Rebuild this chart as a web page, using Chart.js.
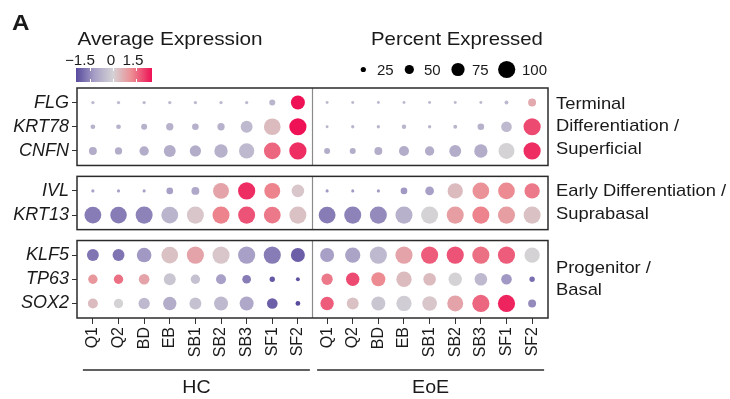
<!DOCTYPE html>
<html>
<head>
<meta charset="utf-8">
<script src="https://cdn.jsdelivr.net/npm/chart.js@4.4.0/dist/chart.umd.min.js"></script>
<style>
  html, body { margin: 0; padding: 0; background: #fff; }
</style>
</head>
<body>
<canvas id="dotPlot" width="730" height="399"></canvas>
<script>
// clusters on the x axis, repeated for each condition
const clusters = ['Q1', 'Q2', 'BD', 'EB', 'SB1', 'SB2', 'SB3', 'SF1', 'SF2'];
const conditions = ['HC', 'EoE'];
const genes = ['FLG', 'KRT78', 'CNFN', 'IVL', 'KRT13', 'KLF5', 'TP63', 'SOX2'];
const geneGroups = [[0, 1, 2], [3, 4], [5, 6, 7]];
const groupLabels = [
    ['Terminal', 'Differentiation /', 'Superficial'],
    ['Early Differentiation /', 'Suprabasal'],
    ['Progenitor /', 'Basal']
];

// one row per gene: 9 HC clusters, then 9 EoE clusters
const pctExpressed = [
    [13, 13, 13, 13, 13, 13, 13, 30, 80,   11, 11, 11, 11, 11, 11, 11, 17, 42],
    [22, 22, 30, 38, 34, 38, 67, 97, 100,  11, 13, 13, 20, 13, 17, 34, 59, 100],
    [42, 38, 51, 67, 63, 76, 88, 97, 100,  30, 30, 42, 55, 51, 67, 76, 92, 100],
    [12, 12, 12, 34, 42, 92, 100, 92, 71,  12, 12, 12, 34, 47, 88, 97, 97, 88],
    [98, 96, 99, 98, 99, 99, 99, 98, 99,   98, 99, 99, 99, 99, 99, 99, 99, 99],
    [67, 67, 84, 97, 100, 100, 100, 100, 80,  80, 88, 100, 100, 100, 100, 100, 100, 88],
    [51, 51, 59, 67, 51, 55, 47, 26, 17,   63, 76, 80, 88, 71, 76, 71, 59, 26],
    [55, 51, 63, 76, 67, 80, 80, 59, 22,   76, 67, 80, 88, 84, 92, 100, 100, 42]
];
const avgExpression = [
    [-0.6, -0.6, -0.6, -0.6, -0.6, -0.6, -0.6, -0.7, 2.5,   -0.6, -0.6, -0.6, -0.6, -0.6, -0.6, -0.6, -0.6, 0.7],
    [-0.8, -0.8, -0.8, -0.8, -0.8, -0.8, -0.6, 0.4, 2.5,    -0.7, -0.7, -0.7, -0.7, -0.7, -0.7, -0.8, -0.6, 1.9],
    [-0.9, -0.9, -0.9, -0.9, -0.9, -0.8, -0.6, 1.6, 2.2,    -0.9, -0.9, -0.9, -0.9, -0.9, -0.9, -0.9, 0, 2.2],
    [-1.2, -1.2, -1.2, -1.2, -1.0, 0.8, 2.2, 1.3, 0.2,      -1.3, -1.3, -1.3, -1.3, -1.2, 0.4, 1.1, 1.2, 1.4],
    [-1.7, -1.7, -1.6, -0.7, 0.2, 1.3, 1.8, 1.4, 0.3,       -1.7, -1.6, -1.5, -0.8, 0, 0.9, 1.3, 0.9, 0.3],
    [-1.8, -1.8, -1.3, 0.3, 0.8, 0.2, -1.2, -1.7, -2.1,     -1.2, -1.1, -0.6, 0.8, 1.7, 1.8, 1.5, 1.7, 0],
    [1.0, 1.5, 0.8, -0.3, -0.4, -1.2, -1.7, -2.2, -2.3,     1.4, 1.9, 1.2, 0.4, 0.4, 0, -0.6, -1.3, -1.9],
    [0.4, 0, -0.6, -0.9, -0.4, -0.6, -1.0, -2.1, -2.5,      1.7, 0.3, -0.3, -0.1, 0.2, 0.8, 1.6, 2.3, -1.5]
];
const sizeBreaks = [25, 50, 75, 100];
const colorTicks = [-1.5, 0, 1.5];

const FONT = '"Liberation Sans", Arial, Helvetica, sans-serif';
const colorStops = [
    [-2.4, [88, 74, 158]],
    [-1.2, [168, 160, 198]],
    [0, [212, 210, 213]],
    [1.2, [236, 140, 146]],
    [2.5, [238, 17, 85]]
];

function colorFor(v) {
    if (v <= colorStops[0][0]) return 'rgb(' + colorStops[0][1].join(',') + ')';
    for (let i = 1; i < colorStops.length; i++) {
        const [v1, c1] = colorStops[i];
        const [v0, c0] = colorStops[i - 1];
        if (v <= v1) {
            const t = (v - v0) / (v1 - v0);
            const c = c0.map((a, k) => Math.round(a + (c1[k] - a) * t));
            return 'rgb(' + c.join(',') + ')';
        }
    }
    return 'rgb(' + colorStops[colorStops.length - 1][1].join(',') + ')';
}

function radiusFor(pct) {
    return 0.08 * pct + 0.6;
}

// x positions: small extra gap between the two conditions
const xPos = [];
const xLabels = [];
conditions.forEach((c, k) => {
    clusters.forEach((cl, i) => {
        xPos.push(i + k * (clusters.length + 0.14));
        xLabels.push(cl);
    });
});
const dividerX = clusters.length - 1 + (1 + 0.14) / 2;

// y positions: gap between gene groups
const yPos = [];
geneGroups.forEach((rows, gi) => {
    rows.forEach(r => { yPos[r] = r + gi * 0.65; });
});

const points = [];
genes.forEach((g, gi) => {
    pctExpressed[gi].forEach((p, ci) => {
        points.push({ x: xPos[ci], y: yPos[gi], pct: p, avg: avgExpression[gi][ci] });
    });
});

function stretchText(ctx, text, x, y, size, sx, align, weight) {
    ctx.save();
    ctx.font = (weight || 'normal') + ' ' + size + 'px ' + FONT;
    ctx.textAlign = align || 'left';
    ctx.textBaseline = 'alphabetic';
    ctx.fillStyle = '#1a1a1a';
    ctx.translate(x, y);
    ctx.scale(sx, 1);
    ctx.fillText(text, 0, 0);
    ctx.restore();
}

function line(ctx, x1, y1, x2, y2) {
    ctx.beginPath();
    ctx.moveTo(x1, y1);
    ctx.lineTo(x2, y2);
    ctx.stroke();
}

const decorations = {
    id: 'decorations',
    afterDraw(chart) {
        const { ctx, chartArea: area, scales: { x, y } } = chart;
        ctx.save();

        // panels, divider and group labels
        geneGroups.forEach((rows, gi) => {
            const top = y.getPixelForValue(yPos[rows[0]] - 0.6);
            const bottom = y.getPixelForValue(yPos[rows[rows.length - 1]] + 0.6);
            ctx.strokeStyle = '#8a8a8a';
            ctx.lineWidth = 1.2;
            const dx = x.getPixelForValue(dividerX);
            line(ctx, dx, top, dx, bottom);
            ctx.strokeStyle = '#2b2b2b';
            ctx.lineWidth = 1.5;
            ctx.strokeRect(area.left, top, area.right - area.left, bottom - top);

            const mid = (top + bottom) / 2;
            const lines = groupLabels[gi];
            lines.forEach((txt, li) => {
                const cy = mid + (li - (lines.length - 1) / 2) * 22.5 - 1.5;
                stretchText(ctx, txt, area.right + 8, cy + 6, 17, 1.08, 'left');
            });
        });

        // condition brackets under the x labels
        ctx.strokeStyle = '#2b2b2b';
        ctx.lineWidth = 1.5;
        conditions.forEach((c, k) => {
            const first = x.getPixelForValue(xPos[k * clusters.length]) - 10;
            const last = x.getPixelForValue(xPos[(k + 1) * clusters.length - 1]) + 12;
            line(ctx, first, 370, last, 370);
            stretchText(ctx, c, (first + last) / 2, 392.5, 17.5, 1.12, 'center');
        });

        // panel letter
        stretchText(ctx, 'A', 12, 29.5, 22, 1.1, 'left', 'bold');

        // colour legend
        stretchText(ctx, 'Average Expression', 77.5, 44.5, 18.5, 1.12, 'left');
        const barL = 76, barR = 152, barT = 68, barH = 14;
        const vMin = colorStops[0][0], vMax = colorStops[colorStops.length - 1][0];
        for (let px = barL; px < barR; px++) {
            const v = vMin + (px + 0.5 - barL) / (barR - barL) * (vMax - vMin);
            ctx.fillStyle = colorFor(v);
            ctx.fillRect(px, barT, 1, barH);
        }
        ctx.strokeStyle = '#ffffff';
        ctx.lineWidth = 1;
        const tickText = ['\u22121.5', '0', '1.5'];
        const tickTextX = [80, 111, 133];
        colorTicks.forEach((v, i) => {
            const px = Math.round(barL + (v - vMin) / (vMax - vMin) * (barR - barL)) + 0.5;
            line(ctx, px, barT, px, barT + 3);
            line(ctx, px, barT + barH - 3, px, barT + barH);
            stretchText(ctx, tickText[i], tickTextX[i], 65, 14.5, 1.05, 'center');
        });

        // size legend
        stretchText(ctx, 'Percent Expressed', 371, 44.5, 18.5, 1.1, 'left');
        const dotX = [363.3, 409.3, 458, 506.7];
        const labX = [377, 424, 472, 522];
        sizeBreaks.forEach((b, i) => {
            ctx.fillStyle = '#000';
            ctx.beginPath();
            ctx.arc(dotX[i], 69.5, radiusFor(b), 0, Math.PI * 2);
            ctx.fill();
            stretchText(ctx, String(b), labX[i], 75, 15, 1, 'left');
        });

        ctx.restore();
    }
};

const ctx = document.getElementById('dotPlot').getContext('2d');
const dotPlot = new Chart(ctx, {
    type: 'scatter',
    data: {
        datasets: [{
            data: points,
            pointRadius: c => radiusFor(c.raw.pct),
            pointHoverRadius: c => radiusFor(c.raw.pct),
            pointBackgroundColor: c => colorFor(c.raw.avg),
            pointBorderWidth: 0,
            pointBorderColor: 'rgba(0,0,0,0)'
        }]
    },
    options: {
        responsive: false,
        animation: false,
        devicePixelRatio: 1,
        layout: { padding: { top: 88, right: 182, bottom: 0, left: 0 } },
        plugins: {
            legend: { display: false },
            tooltip: { enabled: false }
        },
        scales: {
            x: {
                type: 'linear',
                min: -0.62,
                max: 17.76,
                afterBuildTicks: s => { s.ticks = xPos.map(v => ({ value: v })); },
                afterFit: s => { s.height = 81; },
                ticks: {
                    autoSkip: false,
                    minRotation: 90,
                    maxRotation: 90,
                    padding: 3,
                    color: '#1a1a1a',
                    font: { family: FONT, size: 16 },
                    callback: (v, i) => xLabels[i]
                },
                grid: { drawOnChartArea: false, tickLength: 6, color: '#333', lineWidth: 1 },
                border: { display: false }
            },
            y: {
                type: 'linear',
                reverse: true,
                min: -0.6,
                max: 8.9,
                afterBuildTicks: s => { s.ticks = yPos.map(v => ({ value: v })); },
                afterFit: s => { s.width = 77; },
                ticks: {
                    autoSkip: false,
                    padding: 3,
                    color: '#1a1a1a',
                    font: { family: FONT, size: 18, style: 'italic' },
                    callback: (v, i) => genes[i]
                },
                grid: { drawOnChartArea: false, tickLength: 5, color: '#333', lineWidth: 1 },
                border: { display: false }
            }
        }
    },
    plugins: [decorations]
});
</script>
</body>
</html>
